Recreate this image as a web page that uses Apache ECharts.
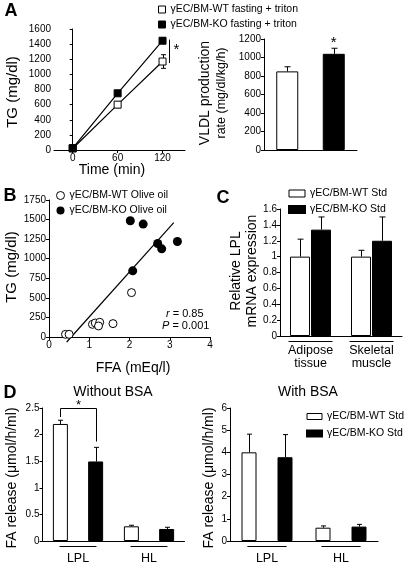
<!DOCTYPE html>
<html><head><meta charset="utf-8">
<script src="https://cdn.jsdelivr.net/npm/echarts@6/dist/echarts.min.js"></script>
<style>html,body{margin:0;padding:0;background:#fff}#c{width:406px;height:575px}</style>
</head><body><div id="c"></div>
<script>
// ---------- Panel A: TG time course ----------
const aTimeTicks = [0, 60, 120];
const aTime = [0, 60, 120];
const aWT = [20, 600, 1170];
const aWTerr = [10, 40, 90];
const aKO = [25, 750, 1445];
const aKOerr = [10, 20, 35];
const aSig = [128, 1150, 1460];          // x (min), low, high of significance bar
// ---------- Panel A: VLDL production ----------
const vCats = ['WT', 'KO'];
const vVals = [850, 1040];
const vErr = [50, 60];
const vStarY = 1160;
// ---------- Panel B: scatter ----------
const bWTx = [0.41, 0.50, 1.08, 1.15, 1.26, 1.23, 1.59, 2.05];
const bWTy = [34, 34, 162, 179, 188, 141, 171, 567];
const bKOx = [2.02, 2.34, 2.70, 2.80, 3.19, 2.08];
const bKOy = [1485, 1442, 1195, 1126, 1220, 845];
const bFitX = [0.44, 3.1];
const bFitY = [-64, 1460];
// ---------- Panel C ----------
const cCats = ['Adipose\ntissue', 'Skeletal\nmuscle'];
const cWT = [1.0, 1.0];
const cWTerr = [0.22, 0.08];
const cKO = [1.34, 1.2];
const cKOerr = [0.16, 0.3];
// ---------- Panel D ----------
const dCats = ['LPL', 'HL'];
const dNoWT = [2.2, 0.276];
const dNoWTerr = [0.07, 0.02];
const dNoKO = [1.495, 0.226];
const dNoKOerr = [0.265, 0.032];
const dNoSig = [0, 2.33, 2.5, 1.87, 2.6];  // category, left leg, top, right leg, star
const dBWT = [4.0, 0.6];
const dBWTerr = [0.82, 0.08];
const dBKO = [3.78, 0.65];
const dBKOerr = [1.02, 0.1];

const FF = '"Liberation Sans", Arial, sans-serif';
const nWT = 'γEC/BM-WT fasting + triton', nKO = 'γEC/BM-KO fasting + triton';
const sWT = 'γEC/BM-WT Std', sKO = 'γEC/BM-KO Std';
const oWT = 'γEC/BM-WT Olive oil', oKO = 'γEC/BM-KO Olive oil';

const chart = echarts.init(document.getElementById('c'), null, {renderer: 'canvas'});
const plain = v => String(+(+v).toFixed(4));

function yAx(gi, min, max, interval) {
  return {type: 'value', gridIndex: gi, min, max, interval, splitLine: {show: false},
    axisLine: {show: true, lineStyle: {color: '#000', width: 1}},
    axisTick: {show: true, length: 3, lineStyle: {color: '#000'}},
    axisLabel: {color: '#000', fontSize: 10, margin: 3, fontFamily: FF, formatter: plain}};
}
function catAx(gi, data, showLabel, margin) {
  return {type: 'category', gridIndex: gi, data, axisTick: {show: false},
    axisLine: {show: true, lineStyle: {color: '#000', width: 1}},
    axisLabel: {show: showLabel, color: '#000', fontSize: 12.5, margin: margin, lineHeight: 13, fontFamily: FF, interval: 0}};
}
const L = (x1, y1, x2, y2) => ({type: 'line', shape: {x1, y1, x2, y2}, style: {stroke: '#000', lineWidth: 1}});

function barErr(idx, n, w, gap, cap) {
  return function (params, api) {
    const c = api.value(0), v = api.value(1), e = api.value(2);
    const total = n * w + (n - 1) * w * gap;
    const off = -total / 2 + w / 2 + idx * w * (1 + gap);
    const p0 = api.coord([c, v]), p1 = api.coord([c, v + e]);
    const x = Math.round(p0[0] + off) + 0.5;
    return {type: 'group', children: [L(x, p0[1], x, p1[1]), L(x - cap, p1[1], x + cap, p1[1])]};
  };
}
function underline(frac, dy) {
  return function (params, api) {
    const c = api.value(0);
    const p = api.coord([c, 0]);
    const band = api.size([1, 0])[0];
    const y = Math.round(p[1] + dy) + 0.5;
    return L(p[0] - band * frac / 2, y, p[0] + band * frac / 2, y);
  };
}
function lineErr(params, api) {
  const x = api.value(0), v = api.value(1), e = api.value(2);
  const lo = api.coord([x, v - e]), hi = api.coord([x, v + e]);
  const xx = Math.round(lo[0]) + 0.5;
  return {type: 'group', children: [L(xx, lo[1], xx, hi[1]), L(xx - 2.5, lo[1], xx + 2.5, lo[1]), L(xx - 2.5, hi[1], xx + 2.5, hi[1])]};
}
function errData(cats, v, e) { return cats.map((_, i) => [i, v[i], e[i]]); }

const series = [];
// A line
series.push({type: 'custom', xAxisIndex: 0, yAxisIndex: 0, z: 1, renderItem: lineErr, silent: true,
  data: aTime.map((t, i) => [t, aWT[i], aWTerr[i]]).concat(aTime.map((t, i) => [t, aKO[i], aKOerr[i]]))});
series.push({name: nWT, type: 'line', xAxisIndex: 0, yAxisIndex: 0, z: 3, symbol: 'rect', symbolSize: 7,
  lineStyle: {color: '#000', width: 1.2}, itemStyle: {color: '#fff', borderColor: '#000', borderWidth: 1},
  data: aTime.map((t, i) => [t, aWT[i]])});
series.push({name: nKO, type: 'line', xAxisIndex: 0, yAxisIndex: 0, z: 4, symbol: 'rect', symbolSize: 7,
  lineStyle: {color: '#000', width: 1.2}, itemStyle: {color: '#000', borderColor: '#000', borderWidth: 1},
  data: aTime.map((t, i) => [t, aKO[i]])});
series.push({type: 'custom', xAxisIndex: 0, yAxisIndex: 0, silent: true, data: [aSig],
  renderItem: function (params, api) {
    const lo = api.coord([api.value(0), api.value(1)]), hi = api.coord([api.value(0), api.value(2)]);
    const x = Math.round(lo[0]) + 0.5;
    return {type: 'group', children: [L(x, lo[1], x, hi[1]),
      {type: 'text', x: x + 7, y: (lo[1] + hi[1]) / 2 - 1, style: {text: '*', font: '15px ' + FF, fill: '#000', align: 'center', verticalAlign: 'middle'}}]};
  }});
// A bar
series.push({type: 'bar', xAxisIndex: 1, yAxisIndex: 1, barWidth: 22,
  data: vVals.map((v, i) => ({value: v, itemStyle: {color: i === 0 ? '#fff' : '#000', borderColor: '#000', borderWidth: 1}}))});
series.push({type: 'custom', xAxisIndex: 1, yAxisIndex: 1, z: 5, silent: true, renderItem: barErr(0, 1, 22, 0, 3),
  data: errData(vCats, vVals, vErr)});
series.push({type: 'custom', xAxisIndex: 1, yAxisIndex: 1, silent: true, data: [[1, vStarY]],
  renderItem: function (params, api) {
    const p = api.coord([api.value(0), api.value(1)]);
    return {type: 'text', x: p[0], y: p[1], style: {text: '*', font: '15px ' + FF, fill: '#000', align: 'center', verticalAlign: 'middle'}};
  }});
// B scatter
series.push({name: oWT, type: 'scatter', xAxisIndex: 2, yAxisIndex: 2, symbolSize: 8, z: 4,
  itemStyle: {color: '#fff', borderColor: '#000', borderWidth: 1, opacity: 1}, data: bWTx.map((x, i) => [x, bWTy[i]])});
series.push({name: oKO, type: 'scatter', xAxisIndex: 2, yAxisIndex: 2, symbolSize: 9, z: 4,
  itemStyle: {color: '#000', opacity: 1}, data: bKOx.map((x, i) => [x, bKOy[i]])});
series.push({type: 'line', xAxisIndex: 2, yAxisIndex: 2, symbol: 'none', clip: false, silent: true, z: 3,
  lineStyle: {color: '#000', width: 1.2}, data: bFitX.map((x, i) => [x, bFitY[i]])});
// C
series.push({name: sWT, type: 'bar', xAxisIndex: 3, yAxisIndex: 3, barWidth: 20, barGap: '5%',
  itemStyle: {color: '#fff', borderColor: '#000', borderWidth: 1}, data: cWT});
series.push({name: sKO, type: 'bar', xAxisIndex: 3, yAxisIndex: 3, barWidth: 20, barGap: '5%',
  itemStyle: {color: '#000', borderColor: '#000', borderWidth: 1}, data: cKO});
series.push({type: 'custom', xAxisIndex: 3, yAxisIndex: 3, z: 5, silent: true, renderItem: barErr(0, 2, 20, 0.05, 3), data: errData(cCats, cWT, cWTerr)});
series.push({type: 'custom', xAxisIndex: 3, yAxisIndex: 3, z: 5, silent: true, renderItem: barErr(1, 2, 20, 0.05, 3), data: errData(cCats, cKO, cKOerr)});
series.push({type: 'custom', xAxisIndex: 3, yAxisIndex: 3, silent: true, renderItem: underline(0.72, 4.5), data: cCats.map((_, i) => [i, 0])});
// D left
const dw = 15;
series.push({name: sWT, type: 'bar', xAxisIndex: 4, yAxisIndex: 4, barWidth: dw, barGap: '135%',
  itemStyle: {color: '#fff', borderColor: '#000', borderWidth: 1}, data: dNoWT});
series.push({name: sKO, type: 'bar', xAxisIndex: 4, yAxisIndex: 4, barWidth: dw, barGap: '135%',
  itemStyle: {color: '#000', borderColor: '#000', borderWidth: 1}, data: dNoKO});
series.push({type: 'custom', xAxisIndex: 4, yAxisIndex: 4, z: 5, silent: true, renderItem: barErr(0, 2, dw, 1.35, 2.5), data: errData(dCats, dNoWT, dNoWTerr)});
series.push({type: 'custom', xAxisIndex: 4, yAxisIndex: 4, z: 5, silent: true, renderItem: barErr(1, 2, dw, 1.35, 2.5), data: errData(dCats, dNoKO, dNoKOerr)});
series.push({type: 'custom', xAxisIndex: 4, yAxisIndex: 4, silent: true, renderItem: underline(0.52, 4.5), data: dCats.map((_, i) => [i, 0])});
series.push({type: 'custom', xAxisIndex: 4, yAxisIndex: 4, silent: true, data: [dNoSig],
  renderItem: function (params, api) {
    const c = api.value(0);
    const total = 2 * dw + dw * 1.35;
    const offL = -total / 2 + dw / 2, offR = offL + dw * 2.35;
    const pl = api.coord([c, api.value(1)]), pt = api.coord([c, api.value(2)]), pr = api.coord([c, api.value(3)]), ps = api.coord([c, api.value(4)]);
    const xl = Math.round(pl[0] + offL) + 0.5, xr = Math.round(pl[0] + offR) + 0.5, yt = Math.round(pt[1]) + 0.5;
    return {type: 'group', children: [L(xl, pl[1], xl, yt), L(xl, yt, xr, yt), L(xr, yt, xr, pr[1]),
      {type: 'text', x: (xl + xr) / 2, y: ps[1] + 3, style: {text: '*', font: '13px ' + FF, fill: '#000', align: 'center', verticalAlign: 'middle'}}]};
  }});
// D right
series.push({name: sWT, type: 'bar', xAxisIndex: 5, yAxisIndex: 5, barWidth: dw, barGap: '140%',
  itemStyle: {color: '#fff', borderColor: '#000', borderWidth: 1}, data: dBWT});
series.push({name: sKO, type: 'bar', xAxisIndex: 5, yAxisIndex: 5, barWidth: dw, barGap: '140%',
  itemStyle: {color: '#000', borderColor: '#000', borderWidth: 1}, data: dBKO});
series.push({type: 'custom', xAxisIndex: 5, yAxisIndex: 5, z: 5, silent: true, renderItem: barErr(0, 2, dw, 1.4, 2.5), data: errData(dCats, dBWT, dBWTerr)});
series.push({type: 'custom', xAxisIndex: 5, yAxisIndex: 5, z: 5, silent: true, renderItem: barErr(1, 2, dw, 1.4, 2.5), data: errData(dCats, dBKO, dBKOerr)});
series.push({type: 'custom', xAxisIndex: 5, yAxisIndex: 5, silent: true, renderItem: underline(0.53, 4.5), data: dCats.map((_, i) => [i, 0])});

function vtext(x, y, text, size) {
  return {type: 'text', x, y, rotation: Math.PI / 2, style: {text, x: 0, y: 0, align: 'center', verticalAlign: 'middle', font: size + 'px ' + FF, fill: '#000'}};
}
function htext(x, y, text, size, weight, align) {
  return {type: 'text', x, y, style: {text, align: align || 'center', verticalAlign: 'middle', font: (weight || 'normal') + ' ' + size + 'px ' + FF, fill: '#000'}};
}
function legendStyle(left, top, items, w, h, gap) {
  return {left, top, orient: 'vertical', itemWidth: w, itemHeight: h, itemGap: gap, selectedMode: false, padding: 0,
    textStyle: {fontSize: 10.5, color: '#000', fontFamily: FF}, data: items};
}

const option = {
  animation: false,
  textStyle: {fontFamily: FF},
  grid: [
    {left: 54, top: 29, width: 131, height: 121},
    {left: 264, top: 39, width: 93, height: 111},
    {left: 49, top: 200, width: 161, height: 137},
    {left: 280, top: 209, width: 122, height: 127},
    {left: 42.5, top: 408, width: 142, height: 133},
    {left: 230, top: 408, width: 148, height: 133}
  ],
  xAxis: [
    {type: 'value', gridIndex: 0, min: -25, max: 150, splitLine: {show: false},
      axisLine: {lineStyle: {color: '#000'}}, axisTick: {length: 3, lineStyle: {color: '#000'}, customValues: aTimeTicks},
      axisLabel: {customValues: aTimeTicks, color: '#000', fontSize: 10, margin: 3, fontFamily: FF}},
    catAx(1, vCats, false, 5),
    {type: 'value', gridIndex: 2, min: 0, max: 4, interval: 1, splitLine: {show: false},
      axisLine: {lineStyle: {color: '#000'}}, axisTick: {length: 3, lineStyle: {color: '#000'}},
      axisLabel: {color: '#000', fontSize: 10, margin: 3, fontFamily: FF}},
    catAx(3, cCats, true, 8),
    catAx(4, dCats, true, 11),
    catAx(5, dCats, true, 11)
  ],
  yAxis: [
    yAx(0, 0, 1600, 200),
    yAx(1, 0, 1200, 200),
    yAx(2, 0, 1750, 250),
    yAx(3, 0, 1.6, 0.2),
    yAx(4, 0, 2.5, 0.5),
    yAx(5, 0, 6, 1)
  ],
  legend: [
    legendStyle(158, 4, [
      {name: nWT, icon: 'rect', itemStyle: {color: '#fff', borderColor: '#000', borderWidth: 1}},
      {name: nKO, icon: 'rect', itemStyle: {color: '#000', borderColor: '#000', borderWidth: 1}}], 7, 7, 4),
    legendStyle(56, 190, [
      {name: oWT, icon: 'circle', itemStyle: {color: '#fff', borderColor: '#000', borderWidth: 1}},
      {name: oKO, icon: 'circle', itemStyle: {color: '#000', opacity: 1}}], 8, 8, 4),
    legendStyle(288, 188, [
      {name: sWT, icon: 'rect', itemStyle: {color: '#fff', borderColor: '#000', borderWidth: 1}},
      {name: sKO, icon: 'rect', itemStyle: {color: '#000'}}], 16, 7, 5),
    legendStyle(306, 411, [
      {name: sWT, icon: 'rect', itemStyle: {color: '#fff', borderColor: '#000', borderWidth: 1}},
      {name: sKO, icon: 'rect', itemStyle: {color: '#000'}}], 15, 6, 6)
  ],
  graphic: [
    htext(11, 11, 'A', 18, 'bold'),
    htext(10, 196, 'B', 18, 'bold'),
    htext(223, 198, 'C', 18, 'bold'),
    htext(10, 393, 'D', 18, 'bold'),
    vtext(13, 92, 'TG (mg/dl)', 15),
    htext(112, 170, 'Time (min)', 14),
    vtext(205, 93, 'VLDL production', 14),
    vtext(222, 93, 'rate (mg/dl/kg/h)', 12.5),
    vtext(12, 267, 'TG (mg/dl)', 15),
    htext(133, 368, 'FFA (mEq/l)', 14),
    {type: 'text', x: 166, y: 314, style: {rich: {i: {fontStyle: 'italic', fontSize: 11, fontFamily: FF}, n: {fontSize: 11, fontFamily: FF}},
      text: '{i|r}{n| = 0.85}', verticalAlign: 'middle', fill: '#000'}},
    {type: 'text', x: 162, y: 326, style: {rich: {i: {fontStyle: 'italic', fontSize: 11, fontFamily: FF}, n: {fontSize: 11, fontFamily: FF}},
      text: '{i|P}{n| = 0.001}', verticalAlign: 'middle', fill: '#000'}},
    vtext(236, 271, 'Relative LPL', 14),
    vtext(252, 271, 'mRNA expression', 14),
    htext(113, 392, 'Without BSA', 14),
    htext(308, 392, 'With BSA', 14),
    vtext(12, 478, 'FA release (μmol/h/ml)', 14),
    vtext(209, 478, 'FA release (μmol/h/ml)', 14)
  ],
  series
};
chart.setOption(option);
</script></body></html>
